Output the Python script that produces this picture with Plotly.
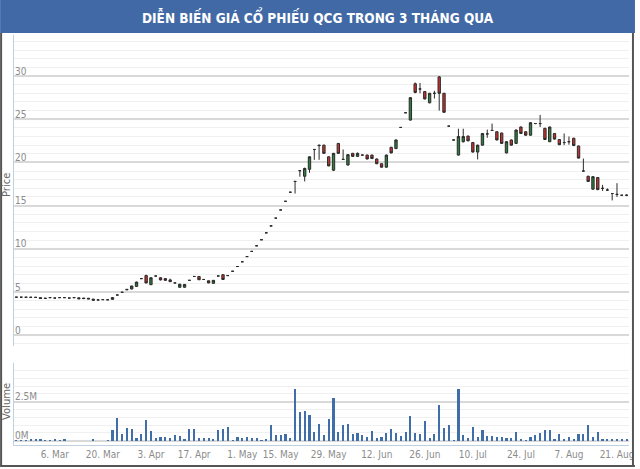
import pandas as pd
import plotly.graph_objects as go
from plotly.subplots import make_subplots

# trading days (HOSE closed 6 Apr, 1-2 May 2017)
holidays = ["2017-04-06", "2017-05-01", "2017-05-02"]
dates = [d for d in pd.bdate_range("2017-02-22", "2017-08-23")
         if d.strftime("%Y-%m-%d") not in holidays]

open_ = [4.40, 4.40, 4.38, 4.40, 4.38, 4.35, 4.25, 4.35, 4.30, 4.35,
         4.35, 4.30, 4.35, 4.33, 4.30, 4.28, 4.18, 4.08, 4.12, 4.10,
         4.15, 4.65, 4.97, 5.25, 5.35, 5.65, 6.55, 6.90, 5.85, 6.85,
         6.65, 6.55, 6.40, 6.05, 5.55, 5.55, 6.35, 6.80, 6.80, 6.45,
         6.30, 6.00, 6.85, 7.00, 6.90, 7.40, 7.95, 8.50, 9.10, 9.70,
         10.35, 11.05, 11.85, 12.65, 13.55, 14.50, 15.50, 16.55, 17.80, 19.05,
         18.40, 19.20, 21.50, 22.00, 22.00, 20.65, 19.10, 22.20, 20.35, 19.70,
         21.05, 20.70, 20.85, 20.85, 20.85, 20.40, 19.85, 19.45, 21.75, 21.60,
         24.05, 25.75, 24.90, 29.10, 28.50, 28.20, 26.90, 28.00, 29.90, 28.00,
         24.20, 22.60, 20.85, 22.40, 23.05, 22.30, 21.20, 22.00, 23.30, 23.70,
         23.55, 23.40, 21.10, 22.60, 22.20, 24.10, 23.55, 23.15, 24.50, 24.50,
         23.95, 22.40, 23.35, 22.65, 22.30, 22.40, 22.80, 21.90, 19.00, 18.40,
         16.90, 18.25, 17.00, 16.80, 16.40, 16.30, 16.20, 16.20]
high = [4.40, 4.40, 4.40, 4.40, 4.38, 4.35, 4.30, 4.35, 4.30, 4.35,
        4.35, 4.30, 4.35, 4.35, 4.32, 4.30, 4.20, 4.10, 4.12, 4.12,
        4.38, 4.65, 4.97, 5.32, 5.72, 6.20, 6.55, 7.00, 6.70, 6.85,
        6.70, 6.60, 6.55, 6.05, 5.95, 5.92, 6.35, 6.80, 6.82, 6.45,
        6.32, 6.38, 6.85, 7.05, 6.90, 7.40, 7.95, 8.50, 9.10, 9.70,
        10.35, 11.05, 11.85, 12.65, 13.55, 14.50, 15.50, 16.55, 17.80, 19.05,
        19.40, 20.70, 21.50, 22.05, 22.05, 20.70, 21.10, 22.25, 21.50, 20.95,
        21.10, 21.15, 20.85, 20.90, 20.90, 20.45, 19.90, 20.90, 21.80, 22.65,
        24.05, 25.75, 27.55, 29.25, 29.20, 28.25, 28.05, 28.30, 30.00, 28.05,
        24.20, 22.60, 23.90, 23.90, 23.10, 22.35, 22.05, 23.40, 23.80, 24.50,
        23.60, 23.45, 22.45, 22.65, 23.80, 24.15, 23.60, 24.65, 24.50, 25.50,
        24.00, 24.15, 23.40, 22.70, 23.35, 23.00, 22.85, 21.95, 20.45, 18.45,
        18.40, 18.30, 17.40, 17.00, 16.40, 17.60, 16.20, 16.30]
low = [4.40, 4.40, 4.38, 4.38, 4.38, 4.22, 4.22, 4.35, 4.30, 4.35,
       4.33, 4.30, 4.35, 4.20, 4.22, 4.18, 4.02, 4.05, 4.12, 4.10,
       4.12, 4.65, 4.97, 5.22, 5.30, 5.60, 6.55, 6.00, 5.80, 6.85,
       6.35, 6.30, 6.15, 6.05, 5.50, 5.50, 6.35, 6.80, 6.40, 6.45,
       6.02, 5.98, 6.85, 6.40, 6.90, 7.40, 7.95, 8.50, 9.10, 9.70,
       10.35, 11.05, 11.85, 12.65, 13.55, 14.50, 15.50, 16.55, 16.40, 18.35,
       17.80, 18.80, 20.30, 20.30, 21.00, 19.55, 19.00, 21.00, 20.30, 19.65,
       20.65, 20.65, 20.85, 20.35, 20.40, 19.80, 19.40, 19.40, 21.05, 21.55,
       24.05, 25.75, 24.85, 28.00, 28.00, 27.30, 26.85, 27.40, 26.00, 25.75,
       24.20, 22.60, 20.80, 22.30, 22.45, 21.15, 20.35, 21.95, 22.85, 23.70,
       22.55, 22.15, 21.05, 21.95, 22.15, 23.30, 23.10, 23.10, 24.50, 24.10,
       22.60, 22.35, 22.65, 22.00, 22.00, 22.05, 21.90, 20.45, 19.00, 17.75,
       16.85, 16.80, 16.70, 16.70, 15.60, 16.00, 16.20, 16.10]
close = [4.40, 4.40, 4.40, 4.38, 4.38, 4.25, 4.28, 4.35, 4.30, 4.35,
         4.35, 4.30, 4.35, 4.22, 4.24, 4.20, 4.05, 4.08, 4.12, 4.10,
         4.35, 4.65, 4.97, 5.30, 5.70, 6.15, 6.55, 6.05, 6.65, 6.85,
         6.40, 6.35, 6.20, 6.05, 5.90, 5.88, 6.35, 6.80, 6.42, 6.45,
         6.05, 6.35, 6.85, 6.45, 6.90, 7.40, 7.95, 8.50, 9.10, 9.70,
         10.35, 11.05, 11.85, 12.65, 13.55, 14.50, 15.50, 16.55, 17.80, 19.05,
         19.30, 20.65, 21.50, 21.95, 21.05, 19.60, 21.05, 21.05, 20.35, 20.90,
         20.70, 21.05, 20.85, 20.40, 20.45, 19.85, 19.45, 20.85, 21.10, 22.60,
         24.05, 25.75, 27.50, 28.10, 28.50, 27.35, 28.00, 28.00, 28.00, 25.80,
         24.20, 22.60, 23.00, 23.00, 22.50, 21.20, 22.00, 23.35, 23.30, 23.70,
         22.60, 22.20, 22.40, 22.00, 23.75, 23.35, 23.15, 24.60, 24.50, 24.50,
         22.65, 24.10, 22.70, 22.05, 22.30, 22.40, 21.95, 20.50, 19.00, 17.80,
         18.35, 16.85, 17.00, 16.80, 16.40, 16.30, 16.20, 16.20]
# volume in millions of shares
volume = [0.05, 0.05, 0.06, 0.10, 0.08, 0.10, 0.06, 0.02, 0.10, 0.06,
          0.08, 0.00, 0.00, 0.00, 0.00, 0.00, 0.15, 0.00, 0.00, 0.03,
          0.73, 1.47, 0.43, 0.83, 0.79, 0.19, 0.47, 1.37, 0.66, 0.22,
          0.28, 0.28, 0.22, 0.36, 0.32, 0.15, 0.79, 0.75, 0.21, 0.21,
          0.22, 0.08, 0.73, 0.79, 0.90, 0.02, 0.28, 0.21, 0.25, 0.21,
          0.21, 0.02, 0.15, 1.00, 0.40, 0.36, 0.47, 0.20, 3.35, 1.86,
          1.92, 1.65, 0.58, 1.10, 0.36, 1.43, 2.78, 0.58, 1.00, 1.10,
          0.47, 0.51, 0.36, 0.26, 0.62, 0.21, 0.25, 0.51, 0.77, 0.51,
          0.30, 0.58, 1.60, 0.51, 0.47, 1.28, 0.21, 0.43, 2.33, 0.85,
          1.00, 0.04, 3.35, 0.36, 0.21, 0.90, 0.26, 0.68, 0.30, 0.30,
          0.26, 0.26, 0.21, 0.21, 0.58, 0.08, 0.02, 0.26, 0.36, 0.51,
          0.68, 0.68, 0.15, 0.47, 0.15, 0.26, 0.08, 0.43, 0.47, 1.05,
          0.26, 0.58, 0.08, 0.08, 0.08, 0.08, 0.08, 0.08]

tick_dates = ["2017-03-06", "2017-03-20", "2017-04-03", "2017-04-17", "2017-05-01",
              "2017-05-15", "2017-05-29", "2017-06-12", "2017-06-26", "2017-07-10",
              "2017-07-24", "2017-08-07", "2017-08-21"]
tick_labels = ["6. Mar", "20. Mar", "3. Apr", "17. Apr", "1. May", "15. May", "29. May",
               "12. Jun", "26. Jun", "10. Jul", "24. Jul", "7. Aug", "21. Aug"]

x = list(range(len(dates)))
tick_pos = [next(i for i, d in enumerate(dates) if d >= pd.Timestamp(t)) for t in tick_dates]

W, H = 640, 469
L, R, T, B = 14, 6, 35, 24
PW, PH = W - L - R, H - T - B

def px_x(p):
    return (p - L) / PW

def px_y(p):
    return (H - B - p) / PH

FONT = "DejaVu Sans Condensed, Liberation Sans Narrow, Roboto, sans-serif"
TICK = dict(family=FONT, size=10, color="#8c8c8c")

fig = make_subplots(rows=2, cols=1, shared_xaxes=True)

fig.add_trace(go.Candlestick(
    x=x, open=open_, high=high, low=low, close=close,
    increasing=dict(line=dict(color="#2b2b2b", width=1), fillcolor="#2d7d3c"),
    decreasing=dict(line=dict(color="#2b2b2b", width=1), fillcolor="#c8322d"),
    whiskerwidth=0, hoverinfo="skip"),
    row=1, col=1)

fig.add_trace(go.Bar(x=x, y=volume, marker_color="#3f6ea8", width=0.45,
                     marker_line_width=0, hoverinfo="skip"),
              row=2, col=1)

fig.update_xaxes(range=[-0.5, len(dates) - 0.5], showgrid=False, zeroline=False,
                 rangeslider_visible=False)
fig.update_xaxes(showticklabels=False, row=1, col=1)
fig.update_xaxes(tickmode="array", tickvals=tick_pos, ticktext=tick_labels,
                 tickfont=TICK, showline=True, linecolor="#c0d0e0", linewidth=1,
                 ticks="", row=2, col=1)

fig.update_layout(
    width=W, height=H,
    margin=dict(l=L, r=R, t=T, b=B),
    paper_bgcolor="white", plot_bgcolor="white",
    showlegend=False, bargap=0,
    yaxis=dict(domain=[px_y(346), 1], range=[-1.25, 34.75], dtick=5, tick0=0,
               ticklabelposition="inside", ticklabelshift=-5, tickfont=TICK,
               gridcolor="#d9d9d9", gridwidth=1.5, zeroline=False,
               showline=True, linecolor="#c0d0e0", linewidth=1,
               minor=dict(dtick=1, tick0=0, showgrid=True, gridcolor="#f0f0f0", gridwidth=1)),
    yaxis2=dict(domain=[0, px_y(362.7)], range=[-0.28, 5],
                tickmode="array", tickvals=[0, 2.5, 5], ticktext=["0M", "2.5M", ""],
                ticklabelposition="inside", ticklabelshift=-5, tickfont=TICK,
                gridcolor="#d9d9d9", gridwidth=1.5, zeroline=False,
                showline=True, linecolor="#c0d0e0", linewidth=1,
                minor=dict(tickvals=[0.5, 1, 1.5, 2, 3, 3.5, 4, 4.5], showgrid=True,
                           gridcolor="#f0f0f0", gridwidth=1)),
)

# title banner and picture frame
fig.add_shape(type="rect", xref="paper", yref="paper",
              x0=px_x(0), x1=px_x(W), y0=px_y(33), y1=px_y(0),
              fillcolor="#4169a6", line_width=0, layer="above")
fig.add_shape(type="line", xref="paper", yref="paper",
              x0=px_x(1), x1=px_x(1), y0=px_y(466), y1=px_y(33),
              line=dict(color="#555555", width=2))
fig.add_shape(type="line", xref="paper", yref="paper",
              x0=px_x(638), x1=px_x(638), y0=px_y(466), y1=px_y(33),
              line=dict(color="#555555", width=2))
fig.add_shape(type="line", xref="paper", yref="paper",
              x0=px_x(0), x1=px_x(W), y0=px_y(466), y1=px_y(466),
              line=dict(color="#555555", width=2))

fig.add_annotation(text="<b>DIỄN BIẾN GIÁ CỔ PHIẾU QCG TRONG 3 THÁNG QUA</b>",
                   xref="paper", yref="paper", x=px_x(320), y=px_y(17),
                   xanchor="center", yanchor="middle", showarrow=False,
                   font=dict(family=FONT, size=13.5, color="white"))
fig.add_annotation(text="Price", textangle=-90, xref="paper", yref="paper",
                   x=px_x(6), y=px_y(185), xanchor="center", yanchor="middle",
                   showarrow=False,
                   font=dict(family="DejaVu Sans, sans-serif", size=10, color="#666666"))
fig.add_annotation(text="Volume", textangle=-90, xref="paper", yref="paper",
                   x=px_x(6), y=px_y(402), xanchor="center", yanchor="middle",
                   showarrow=False,
                   font=dict(family="DejaVu Sans, sans-serif", size=10, color="#666666"))

# drop the browser's default page margin so the figure sits at the window's corner
fig.write_html("out.html", config={"displayModeBar": False},
               post_script="document.body.style.margin='0';document.body.style.overflow='hidden';")
